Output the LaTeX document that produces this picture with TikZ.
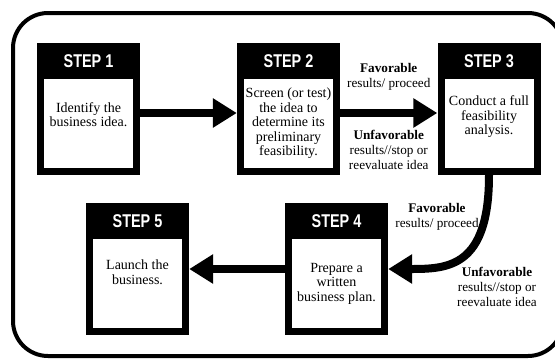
\documentclass[tikz,border=0pt]{standalone}
\usepackage{fontspec}
\setmainfont{Liberation Serif}
\newfontfamily\headfont[FakeStretch=0.78]{Liberation Sans}
\usetikzlibrary{arrows.meta,positioning}

\begin{document}
\begin{tikzpicture}[x=1pt,y=-1pt,
        stepframe/.style={fill=black, minimum width=103pt, minimum height=132pt, inner sep=0pt},
        stepbody/.style={fill=white, minimum width=89pt, minimum height=89pt, inner sep=0pt,
            align=center, font=\fontsize{14}{14.5}\selectfont},
        steptitle/.style={text=white, inner sep=0pt, font=\headfont\bfseries\fontsize{18.5}{18.5}\selectfont},
        lbl/.style={align=center, inner sep=2pt, font=\fontsize{13.2}{15}\selectfont},
        bigarrow/.style={line width=8pt, -{Triangle[length=24pt,width=28pt]}}
    ]
        \useasboundingbox (0,0) rectangle (555,360);
        \clip (0,0) rectangle (555,360);
        \draw[line width=4pt, rounded corners=35pt] (13,13) rectangle (563,356);

        % top row
        \node[stepframe] (s1) at (88.5,109) {};
        \node[stepframe] (s2) at (288.5,109) {};
        \node[stepframe] (s3) at (489,109) {};
        % bottom row
        \node[stepframe] (s5) at (137.5,269) {};
        \node[stepframe] (s4) at (336.5,269) {};

        \node[steptitle] (t1) at ([yshift=-18.5pt]s1.north) {STEP 1};
        \node[steptitle] (t2) at ([yshift=-18.5pt]s2.north) {STEP 2};
        \node[steptitle] (t3) at ([yshift=-18.5pt]s3.north) {STEP 3};
        \node[steptitle] (t4) at ([yshift=-18.5pt]s4.north) {STEP 4};
        \node[steptitle] (t5) at ([yshift=-18.5pt]s5.north) {STEP 5};

        \node[stepbody, above=7pt of s1.south] (b1) {Identify the\\business idea.\\[3pt]};
        \node[stepbody, above=7pt of s2.south] (b2) {Screen (or test)\\the idea to\\determine its\\preliminary\\feasibility.};
        \node[stepbody, above=7pt of s3.south] (b3) {Conduct a full\\feasibility\\analysis.\\[2pt]};
        \node[stepbody, above=7pt of s4.south] (b4) {Prepare a\\written\\business plan.};
        \node[stepbody, above=7pt of s5.south] (b5) {Launch the\\business.\\[8pt]};

        \draw[bigarrow] ([yshift=-4pt]s1.east) -- ([yshift=-4pt]s2.west);
        \draw[bigarrow] ([yshift=-4pt]s2.east) -- ([yshift=-4pt]s3.west)
            node[lbl, midway, above=17pt] (fav1) {\textbf{Favorable}\\results/ proceed}
            node[lbl, midway, below=11pt] (unfav1) {\textbf{Unfavorable}\\results//stop or\\reevaluate idea};
        \draw[bigarrow] (s3.south) .. controls +(0,92) and +(60,0) .. (s4.east);
        \draw[bigarrow] (s4.west) -- (s5.east);

        \node[lbl] (fav2) at (437,217) {\textbf{Favorable}\\results/ proceed};
        \node[lbl] (unfav2) at (497,287) {\textbf{Unfavorable}\\results//stop or\\reevaluate idea};
    \end{tikzpicture}
\end{document}
